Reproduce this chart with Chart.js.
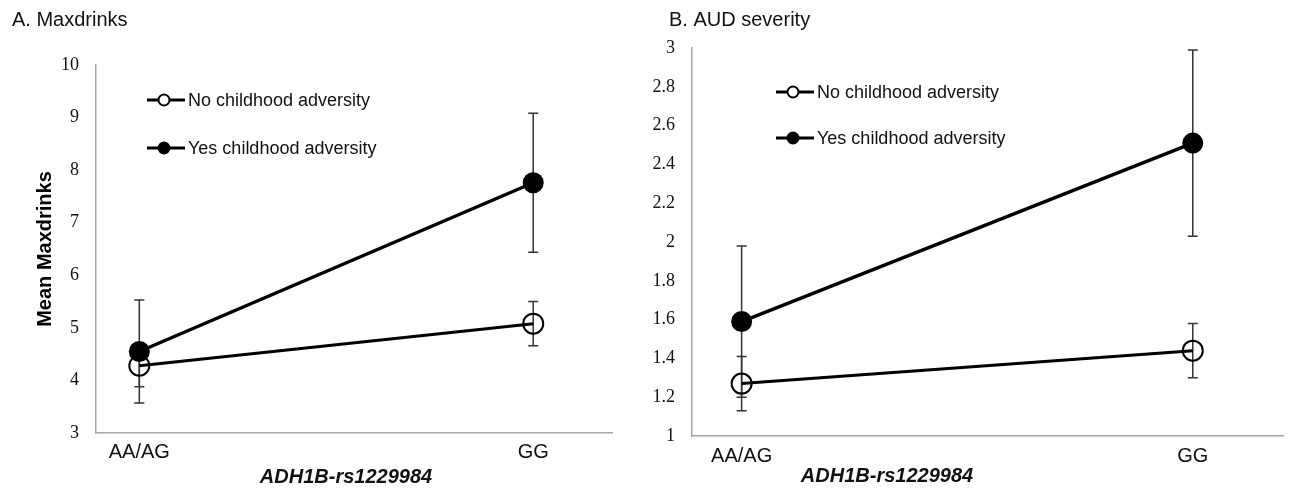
<!DOCTYPE html>
<html>
<head>
<meta charset="utf-8">
<script src="https://cdn.jsdelivr.net/npm/chart.js@4.4.1/dist/chart.umd.min.js"></script>
<style>
  html, body { margin:0; padding:0; background:#fff; }
  #wrap { position:relative; width:1295px; height:489px; }
  .panel { position:absolute; top:0; height:489px; }
  #pa { left:0; width:640px; }
  #pb { left:640px; width:655px; }
</style>
</head>
<body>
<div id="wrap">
  <div class="panel" id="pa"><canvas id="cA"></canvas></div>
  <div class="panel" id="pb"><canvas id="cB"></canvas></div>
</div>
<script>
'use strict';
const genotypes = ['AA/AG', 'GG'];
const seriesNames = ['No childhood adversity', 'Yes childhood adversity'];

// A. Maxdrinks
const maxNo    = [4.28, 5.08];
const maxNoLo  = [3.88, 4.66];
const maxNoHi  = [4.68, 5.50];
const maxYes   = [4.55, 7.76];
const maxYesLo = [3.57, 6.44];
const maxYesHi = [5.53, 9.08];
const maxTicks = [3, 4, 5, 6, 7, 8, 9, 10];

// B. AUD severity
const audNo    = [1.27, 1.44];
const audNoLo  = [1.13, 1.30];
const audNoHi  = [1.41, 1.58];
const audYes   = [1.59, 2.51];
const audYesLo = [1.20, 2.03];
const audYesHi = [1.98, 2.99];
const audTicks = [1, 1.2, 1.4, 1.6, 1.8, 2, 2.2, 2.4, 2.6, 2.8, 3];

const SANS = '"Liberation Sans", Arial, sans-serif';
const SERIF = '"Liberation Serif", "DejaVu Serif", serif';

// error bars, panel title, in-plot legend and x title
const extras = {
  id: 'extras',
  beforeDatasetsDraw(chart) {
    const { ctx, scales: { x, y } } = chart;
    ctx.save();
    ctx.strokeStyle = '#333'; ctx.lineWidth = 1.5;
    chart.data.datasets.forEach(ds => {
      ds.data.forEach((p, i) => {
        const px = x.getPixelForValue(p.x);
        const lo = y.getPixelForValue(ds.lo[i]), hi = y.getPixelForValue(ds.hi[i]);
        ctx.beginPath();
        ctx.moveTo(px, lo); ctx.lineTo(px, hi);
        ctx.moveTo(px - 5, lo); ctx.lineTo(px + 5, lo);
        ctx.moveTo(px - 5, hi); ctx.lineTo(px + 5, hi);
        ctx.stroke();
      });
    });
    ctx.restore();
  },
  afterDraw(chart, args, o) {
    const { ctx, chartArea: a } = chart;
    ctx.save();
    ctx.textBaseline = 'middle';
    // panel title
    ctx.fillStyle = '#111'; ctx.font = '20px ' + SANS; ctx.textAlign = 'left';
    ctx.fillText(o.title, o.titleX, o.titleY);
    // legend
    chart.data.datasets.forEach((ds, i) => {
      const lx = a.left + o.legendX, ly = a.top + o.legendY + i * o.legendGap;
      ctx.strokeStyle = '#000'; ctx.lineWidth = 3;
      ctx.beginPath(); ctx.moveTo(lx, ly); ctx.lineTo(lx + 38, ly); ctx.stroke();
      ctx.beginPath(); ctx.arc(lx + 17, ly, 5.5, 0, Math.PI * 2);
      ctx.fillStyle = ds.legendFill; ctx.fill();
      ctx.lineWidth = 2; ctx.stroke();
      ctx.fillStyle = '#111'; ctx.font = '18px ' + SANS; ctx.textAlign = 'left';
      ctx.fillText(ds.label, lx + 41, ly + 1);
    });
    // x axis title
    ctx.fillStyle = '#111'; ctx.font = 'bold italic 20px ' + SANS; ctx.textAlign = 'center';
    ctx.fillText(o.xTitle, o.xTitleX, o.xTitleY);
    ctx.restore();
  }
};

function makeSets(no, noLo, noHi, yes, yesLo, yesHi) {
  return [
    { label: seriesNames[0], data: no.map((v, i) => ({ x: i, y: v })), lo: noLo, hi: noHi,
      borderColor: '#000', borderWidth: 3, pointRadius: 10, pointBorderWidth: 2,
      pointBackgroundColor: 'rgba(0,0,0,0)', pointBorderColor: '#000', legendFill: '#fff' },
    { label: seriesNames[1], data: yes.map((v, i) => ({ x: i, y: v })), lo: yesLo, hi: yesHi,
      borderColor: '#000', borderWidth: 3.5, pointRadius: 10.5, pointBorderWidth: 0,
      pointBackgroundColor: '#000', pointBorderColor: '#000', legendFill: '#000' },
  ];
}

function makeChart(id, cfg) {
  return new Chart(document.getElementById(id), {
    type: 'line',
    data: { datasets: cfg.datasets },
    plugins: [extras],
    options: {
      responsive: true, maintainAspectRatio: false, animation: false,
      layout: { padding: { left: 0, right: cfg.padRight, top: cfg.padTop, bottom: 0 } },
      plugins: {
        legend: { display: false }, tooltip: { enabled: false }, title: { display: false },
        extras: cfg.extras,
      },
      scales: {
        x: {
          type: 'linear', min: -0.11, max: 1.2,
          grid: { display: false, drawTicks: false },
          border: { display: true, color: '#a6a6a6', width: 1.5 },
          afterBuildTicks: s => { s.ticks = genotypes.map((g, i) => ({ value: i })); },
          afterFit: s => { s.height = cfg.xHeight; },
          ticks: { autoSkip: false, maxRotation: 0, padding: cfg.xPad, color: '#111',
            font: { family: SANS, size: 20 }, callback: v => genotypes[v] },
        },
        y: {
          min: cfg.yTicks[0], max: cfg.yTicks[cfg.yTicks.length - 1],
          grid: { display: false, drawTicks: false },
          border: { display: true, color: '#a6a6a6', width: 1.5 },
          afterBuildTicks: s => { s.ticks = cfg.yTicks.map(v => ({ value: v })); },
          afterFit: s => { s.width = cfg.yWidth; },
          ticks: { padding: 17, color: '#111', font: { family: SERIF, size: 18 },
            callback: v => String(Number(v.toFixed(1))) },
          title: cfg.yTitle ? { display: true, text: cfg.yTitle, color: '#000',
            font: { family: SANS, size: 20, weight: 'bold' }, padding: { top: 33, bottom: 0 } } : { display: false },
        },
      },
    },
  });
}

makeChart('cA', {
  padRight: 28, padTop: 65, yWidth: 96, xHeight: 56, xPad: 7, yTicks: maxTicks, yTitle: 'Mean Maxdrinks',
  datasets: makeSets(maxNo, maxNoLo, maxNoHi, maxYes, maxYesLo, maxYesHi),
  extras: { title: 'A. Maxdrinks', titleX: 12, titleY: 20,
    legendX: 51, legendY: 35, legendGap: 48,
    xTitle: 'ADH1B-rs1229984', xTitleX: 346, xTitleY: 477 },
});

makeChart('cB', {
  padRight: 6, padTop: 48, yWidth: 52, xHeight: 53, xPad: 8, yTicks: audTicks, yTitle: null,
  datasets: makeSets(audNo, audNoLo, audNoHi, audYes, audYesLo, audYesHi),
  extras: { title: 'B. AUD severity', titleX: 29, titleY: 20,
    legendX: 84, legendY: 44, legendGap: 46,
    xTitle: 'ADH1B-rs1229984', xTitleX: 247, xTitleY: 476 },
});
</script>
</body>
</html>
